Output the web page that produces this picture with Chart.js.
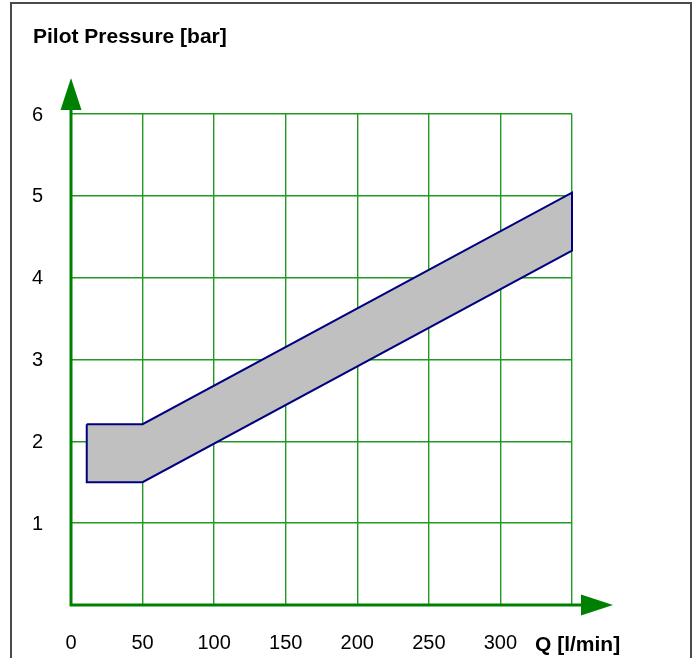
<!DOCTYPE html>
<html>
<head>
<meta charset="utf-8">
<script src="https://cdn.jsdelivr.net/npm/chart.js@4/dist/chart.umd.min.js"></script>
<style>
  html, body { margin: 0; padding: 0; background: #fff; }
  canvas { display: block; }
</style>
</head>
<body>
<canvas id="pilot-canvas" width="692" height="658"></canvas>
<script>
// operating band outline, traced clockwise and closed back to the start
const flowRate = [11, 50, 350, 350, 50, 11, 11];
const pilotPressure = [2.21, 2.21, 5.04, 4.33, 1.5, 1.5, 2.21];

const xTicks = [0, 50, 100, 150, 200, 250, 300];
const yTicks = [1, 2, 3, 4, 5, 6];
const xMax = 350;
const yMax = 6;

const yTitle = "Pilot Pressure [bar]";
const xTitle = "Q [l/min]";

const fontFamily = "'Liberation Sans', Arial, sans-serif";
const axisGreen = "#008000";
const gridGreen = "#229a22";

const points = flowRate.map((q, i) => ({ x: q, y: pilotPressure[i] }));

// frame, arrowed axes and the two axis titles
const decorations = {
  id: "decorations",
  beforeDraw(chart) {
    const ctx = chart.ctx;
    ctx.save();
    ctx.strokeStyle = "#4a4a4a";
    ctx.lineWidth = 2;
    ctx.strokeRect(11, 3, 680, 700);
    ctx.restore();
  },
  afterDraw(chart) {
    const ctx = chart.ctx;
    const xs = chart.scales.x;
    const ys = chart.scales.y;
    const x0 = xs.getPixelForValue(0);
    const y0 = ys.getPixelForValue(0);
    const xEnd = xs.getPixelForValue(xMax);
    const yEnd = ys.getPixelForValue(yMax);

    ctx.save();
    ctx.strokeStyle = axisGreen;
    ctx.fillStyle = axisGreen;
    ctx.lineWidth = 3;

    ctx.beginPath();
    ctx.moveTo(x0, y0 + 1.5);
    ctx.lineTo(x0, yEnd - 5);
    ctx.moveTo(x0 - 1.5, y0);
    ctx.lineTo(xEnd + 10, y0);
    ctx.stroke();

    // arrow heads
    ctx.beginPath();
    ctx.moveTo(x0 - 10.5, yEnd - 4);
    ctx.lineTo(x0 + 10.5, yEnd - 4);
    ctx.lineTo(x0, yEnd - 36);
    ctx.closePath();
    ctx.fill();

    ctx.beginPath();
    ctx.moveTo(xEnd + 9, y0 - 10.5);
    ctx.lineTo(xEnd + 9, y0 + 10.5);
    ctx.lineTo(xEnd + 41, y0);
    ctx.closePath();
    ctx.fill();

    ctx.fillStyle = "#000";
    ctx.font = "bold 21px " + fontFamily;
    ctx.textAlign = "left";
    ctx.textBaseline = "alphabetic";
    ctx.fillText(yTitle, 33, 43);
    ctx.fillText(xTitle, xEnd - 37, 650.5);
    ctx.restore();
  }
};

new Chart(document.getElementById("pilot-canvas"), {
  type: "line",
  data: {
    datasets: [{
      data: points,
      borderColor: "#000080",
      borderWidth: 2,
      backgroundColor: "#c0c0c0",
      fill: "shape",
      pointRadius: 0,
      tension: 0,
      clip: false
    }]
  },
  options: {
    responsive: false,
    animation: false,
    layout: { padding: { top: 114, right: 120, left: 0, bottom: 0 } },
    plugins: {
      legend: { display: false },
      tooltip: { enabled: false }
    },
    scales: {
      x: {
        type: "linear",
        min: 0,
        max: xMax,
        z: 1,
        afterFit(scale) { scale.height = 53; },
        afterBuildTicks(scale) {
          scale.ticks = xTicks.concat([xMax]).map(v => ({ value: v }));
        },
        ticks: {
          padding: 26,
          color: "#000",
          font: { family: fontFamily, size: 20 },
          maxRotation: 0,
          autoSkip: false,
          callback: v => (xTicks.includes(v) ? String(v) : "")
        },
        grid: { color: gridGreen, lineWidth: 1.4, drawTicks: false },
        border: { display: false }
      },
      y: {
        type: "linear",
        min: 0,
        max: yMax,
        z: 1,
        afterFit(scale) { scale.width = 71; },
        afterBuildTicks(scale) {
          scale.ticks = [0].concat(yTicks).map(v => ({ value: v }));
        },
        ticks: {
          padding: 28,
          labelOffset: 1,
          color: "#000",
          font: { family: fontFamily, size: 20 },
          callback: v => (yTicks.includes(v) ? String(v) : "")
        },
        grid: { color: gridGreen, lineWidth: 1.4, drawTicks: false },
        border: { display: false }
      }
    }
  },
  plugins: [decorations]
});
</script>
</body>
</html>
